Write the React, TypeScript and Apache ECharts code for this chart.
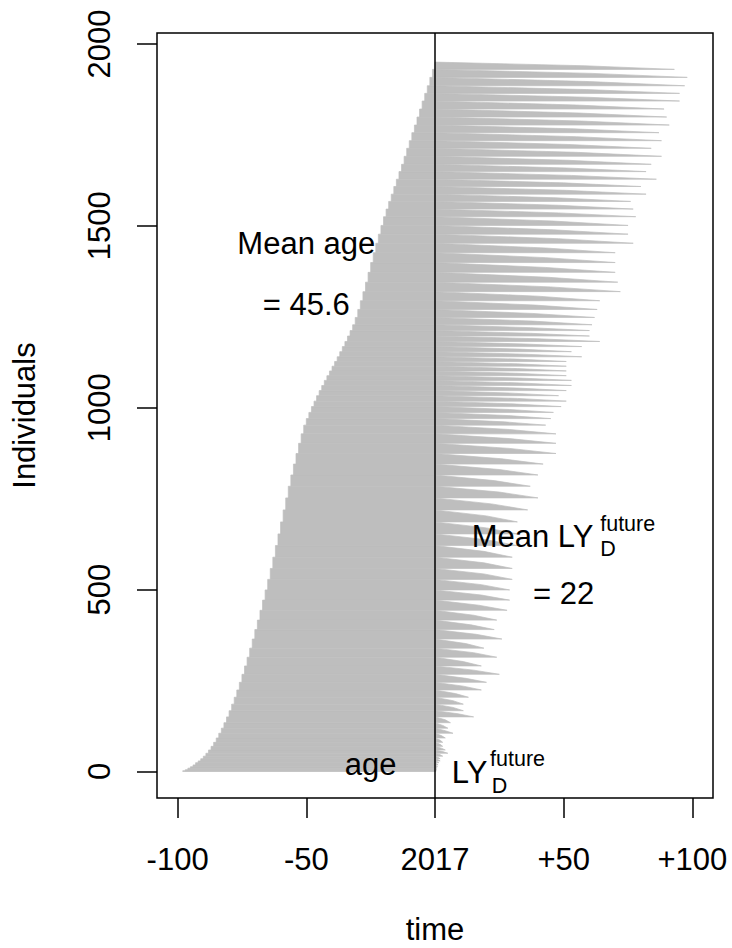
import React, { useEffect, useRef } from "react";
import * as echarts from "echarts";

// ---- data ----
// one group per integer age (0 = youngest, drawn at the top)
const ageGroups = [
  0, 1, 2, 3, 4, 5, 6, 7, 8, 9, 10, 11, 12, 13, 14, 15, 16, 17, 18, 19,
  20, 21, 22, 23, 24, 25, 26, 27, 28, 29, 30, 31, 32, 33, 34, 35, 36, 37, 38, 39,
  40, 41, 42, 43, 44, 45, 46, 47, 48, 49, 50, 51, 52, 53, 54, 55, 56, 57, 58, 59,
  60, 61, 62, 63, 64, 65, 66, 67, 68, 69, 70, 71, 72, 73, 74, 75, 76, 77, 78, 79,
  80, 81, 82, 83, 84, 85, 86, 87, 88, 89, 90, 91, 92, 93, 94, 95, 96, 97, 98,
];
// number of individuals of each age
const groupCounts = [
  20, 22, 23, 21, 21, 22, 22, 22, 21, 22, 21, 22, 22, 20, 21, 20, 21, 20, 21, 21,
  24, 24, 25, 26, 27, 27, 27, 26, 25, 24, 22, 20, 16, 15, 15, 14, 14, 14, 13, 13,
  13, 13, 13, 14, 14, 14, 15, 15, 16, 17, 18, 24, 26, 28, 29, 30, 31, 32, 33, 33,
  33, 32, 32, 31, 30, 29, 28, 28, 27, 26, 26, 25, 25, 24, 23, 22, 21, 20, 19, 18,
  17, 16, 15, 14, 13, 12, 11, 10, 9, 8, 7, 6, 5, 6, 5, 4, 4, 3, 2,
];
// longest future life-years in each age group (tip of each tooth)
const maxFutureLY = [
  93, 98, 97, 95, 95, 89, 90, 91, 87, 88, 84, 88, 84, 82, 86, 80, 82, 76, 77, 78,
  75, 75, 77, 70, 70, 70, 71, 72, 64, 63, 62, 61, 60, 60, 64, 57, 53, 57, 51, 51,
  51, 51, 53, 53, 51, 48, 51, 49, 46, 45, 43, 47, 47, 47, 42, 40, 37, 40, 36, 32,
  32, 32, 30, 30, 30, 29, 29, 28, 24, 23, 26, 19, 24, 18, 25, 20, 18, 13, 11, 11,
  15, 6, 5, 7, 4, 3, 3, 4, 5, 3, 2, 2, 1.5, 1.2, 1, 0.8, 0.6, 0.5, 0.3,
];
// future life-years of the middle individual of each age group
const medianFutureLY = [
  58, 61, 60, 59, 59, 55, 56, 57, 54, 55, 52, 55, 52, 51, 53, 50, 51, 47, 48, 48,
  46, 46, 48, 43, 43, 43, 44, 45, 40, 39, 38, 38, 37, 37, 40, 35, 33, 35, 32, 32,
  32, 32, 33, 33, 32, 30, 32, 30, 29, 28, 27, 29, 29, 29, 26, 25, 23, 25, 22, 20,
  20, 20, 19, 19, 19, 18, 18, 17, 15, 14, 16, 12, 15, 11, 15, 12, 11, 8, 7, 7,
  9, 4, 3, 4, 2.5, 2, 2, 2.5, 3, 2, 1.2, 1.2, 0.9, 0.7, 0.6, 0.5, 0.4, 0.3, 0.2,
];

const xTickValues = [-100, -50, 0, 50, 100];
const xTickLabels = ["-100", "-50", "2017", "+50", "+100"];
const yTickValues = [0, 500, 1000, 1500, 2000];

const meanAgeText = ["Mean age", "= 45.6"];
const meanLYText = "= 22";

const GREY = "#BEBEBE";
const FONT = "'Liberation Sans', Arial, Helvetica, sans-serif";
const FS = 31;
const SUB = 21.5;

export default function App() {
  const ref = useRef<HTMLDivElement>(null);

  useEffect(() => {
    const el = ref.current;
    if (!el) return;
    const chart = echarts.init(el, null, { renderer: "svg" });

    // stack age groups: oldest at the bottom
    const items: number[][] = [];
    let cum = 0;
    for (let k = ageGroups.length - 1; k >= 0; k--) {
      items.push([ageGroups[k], cum, groupCounts[k], maxFutureLY[k], medianFutureLY[k]]);
      cum += groupCounts[k];
    }

    const tickStyle = { color: "#000", width: 1.5 };
    const labelStyle = { fontSize: FS, lineHeight: FS, color: "#000", fontFamily: FONT };

    chart.setOption({
      animation: false,
      backgroundColor: "#fff",
      grid: {
        left: 157,
        right: 19,
        top: 33,
        bottom: 150,
        containLabel: false,
        outerBoundsMode: "none",
        show: true,
        borderColor: "#000",
        borderWidth: 1.5,
        backgroundColor: "transparent",
      },
      xAxis: {
        type: "value",
        min: -108,
        max: 108,
        splitLine: { show: false },
        axisLine: { show: false, onZero: false },
        axisTick: {
          show: true,
          inside: false,
          length: 20,
          lineStyle: tickStyle,
          customValues: xTickValues,
        },
        axisLabel: {
          show: true,
          customValues: xTickValues,
          formatter: (v: number) => xTickLabels[xTickValues.indexOf(v)] ?? "",
          ...labelStyle,
          margin: 46,
        },
        name: "time",
        nameLocation: "middle",
        nameGap: 119,
        nameTextStyle: { ...labelStyle, lineHeight: 24 },
      },
      yAxis: {
        type: "value",
        min: -73,
        max: 2030,
        splitLine: { show: false },
        axisLine: { show: false, onZero: false },
        axisTick: {
          show: true,
          inside: false,
          length: 20,
          lineStyle: tickStyle,
          customValues: yTickValues,
        },
        axisLabel: {
          show: true,
          customValues: yTickValues,
          formatter: (v: number) => String(v),
          rotate: 90,
          ...labelStyle,
          margin: 42,
        },
        name: "Individuals",
        nameLocation: "middle",
        nameGap: 117,
        nameRotate: 90,
        nameTextStyle: labelStyle,
      },
      series: [
        {
          type: "custom",
          data: items,
          encode: { x: 0, y: 1 },
          silent: true,
          renderItem: (params: any, api: any) => {
            const age = api.value(0);
            const yb = api.value(1);
            const n = api.value(2);
            const mx = api.value(3);
            const md = api.value(4);
            const yt = yb + n;
            const style = { fill: GREY, stroke: GREY, lineWidth: 0.7 };
            const children: any[] = [];
            if (age > 0) {
              children.push({
                type: "polygon",
                shape: {
                  points: [api.coord([-age, yb]), api.coord([0, yb]), api.coord([0, yt]), api.coord([-age, yt])],
                },
                style,
              });
            }
            children.push({
              type: "polygon",
              shape: {
                points: [api.coord([0, yb]), api.coord([mx, yb]), api.coord([md, yb + n / 2]), api.coord([0, yt])],
              },
              style,
            });
            return { type: "group", children };
          },
        },
        {
          type: "line",
          data: [
            [0, -73],
            [0, 2030],
          ],
          symbol: "none",
          lineStyle: { color: "#000", width: 1.5 },
          silent: true,
          z: 5,
        },
      ],
    });

    const px = (p: number[]) => chart.convertToPixel({ gridIndex: 0 }, p) as number[];
    const a1 = px([-50, 1450]);
    const a2 = px([-50, 1285]);
    const a3 = px([50, 650]);
    const a4 = px([50, 490]);
    const a5 = px([-25, 20]);
    const a6 = px([25, 0]);
    const t = (x: number, y: number, text: string, size: number, align: string) => ({
      type: "text",
      x,
      y,
      silent: true,
      z: 10,
      style: {
        text,
        fill: "#000",
        font: `${size}px ${FONT}`,
        align,
        verticalAlign: "middle",
      },
    });

    chart.setOption({
      graphic: [
        t(a1[0], a1[1], meanAgeText[0], FS, "center"),
        t(a2[0], a2[1], meanAgeText[1], FS, "center"),
        t(a3[0] - 92, a3[1] + 1.5, "Mean LY", FS, "left"),
        t(a3[0] + 36.5, a3[1] - 10.5, "future", SUB, "left"),
        t(a3[0] + 36.5, a3[1] + 14.5, "D", SUB, "left"),
        t(a4[0], a4[1], meanLYText, FS, "center"),
        t(a5[0], a5[1], "age", FS, "center"),
        t(a6[0] - 47.6, a6[1] + 1.3, "LY", FS, "left"),
        t(a6[0] - 9.3, a6[1] - 12.2, "future", SUB, "left"),
        t(a6[0] - 7.6, a6[1] + 14.5, "D", SUB, "left"),
      ],
    });

    return () => chart.dispose();
  }, []);

  return (
    <div
      ref={ref}
      style={{ position: "fixed", left: 0, top: 0, width: 732, height: 948, background: "#fff" }}
    />
  );
}
